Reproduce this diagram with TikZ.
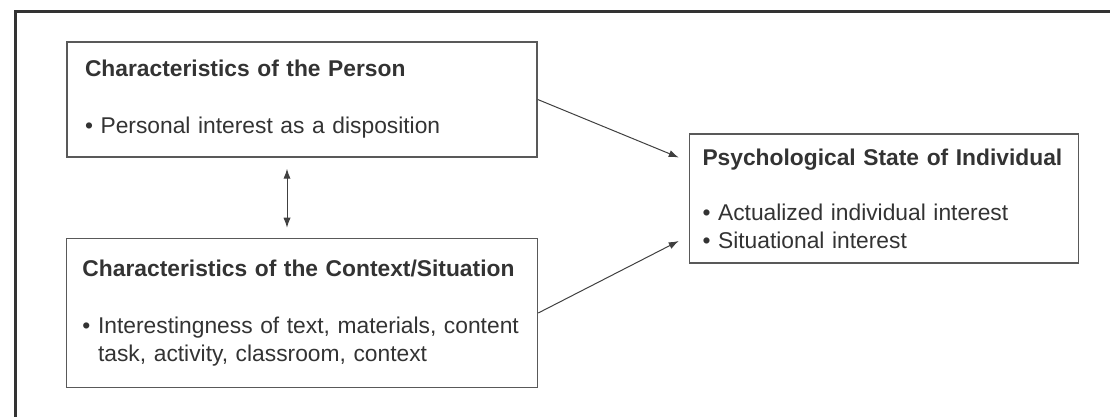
\documentclass[tikz,border=0pt]{standalone}
\usepackage{fontspec}
\setmainfont{Liberation Sans}
\usetikzlibrary{positioning, arrows.meta}
\tikzstyle{factor} = [
    rectangle,
    draw = black!65,
    line width = 0.75pt,
    text = black!80,
    align = left,
    inner xsep = 9pt,
    text width = 217pt,
    minimum height = 57.5pt,
    font = \fontsize{11.4}{14}\selectfont
]
\tikzstyle{link} = [
    draw = black!75,
    line width = 0.5pt,
    -{Latex[length = 5pt, width = 3.6pt]}
]
\tikzstyle{frame} = [
    draw = black!80,
    line width = 1.5pt
]

\begin{document}
\begin{tikzpicture}[x = 0.5pt, y = -0.5pt]

    \useasboundingbox (0,0) rectangle (1110,417);
    \clip (0,0) rectangle (1110,417);
    \draw [frame] (15,440) |- (1130,12);

    % Person
    \node [factor] (person) at (302,99.5)
        {\textbf{Characteristics of the Person}\\[14.5pt]
         \textbullet\ Personal interest as a disposition};

    % Context
    \node [factor, below = 40pt of person, inner xsep = 8pt, text width = 219.5pt,
           minimum height = 74.5pt] (context)
        {\textbf{Characteristics of the Context/Situation}\\[14.5pt]
         \textbullet\ Interestingness of text, materials, content\\
         \hphantom{\textbullet\ }task, activity, classroom, context};

    % State
    \node [factor, right = 75.5pt of person.south east, yshift = -20.5pt,
           inner xsep = 6.5pt, text width = 181.5pt, minimum height = 64.5pt] (state)
        {\textbf{Psychological State of Individual}\\[13.5pt]
         \textbullet\ Actualized individual interest\\
         \textbullet\ Situational interest};

    \draw [link] (person.east) -- ([xshift = -5pt, yshift = -12pt]state.north west);
    \draw [link] (context.east) -- ([xshift = -5pt, yshift = 11.5pt]state.south west);
    \draw [link, {Latex[length = 5pt, width = 3.6pt]}-{Latex[length = 5pt, width = 3.6pt]}]
        ([xshift = -7.5pt, yshift = -5.5pt]person.south) -- ([xshift = -7.5pt, yshift = 5pt]context.north);

\end{tikzpicture}
\end{document}
